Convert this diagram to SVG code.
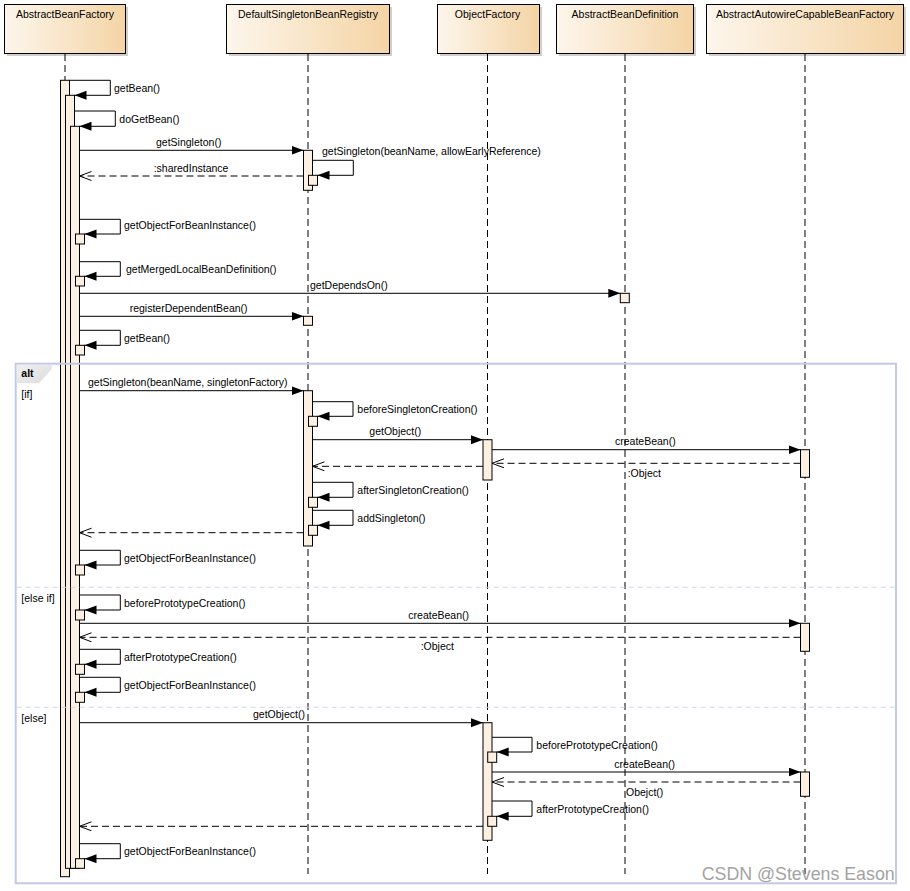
<svg xmlns="http://www.w3.org/2000/svg" width="910" height="891" viewBox="0 0 910 891">
<defs>
<linearGradient id="hdr" x1="0" y1="0" x2="1" y2="0">
<stop offset="0" stop-color="#fdf6ec"/>
<stop offset="1" stop-color="#f4d4a5"/>
</linearGradient>
<linearGradient id="tab" x1="0" y1="0" x2="1" y2="1">
<stop offset="0" stop-color="#f0f0f0"/>
<stop offset="1" stop-color="#dcdcdc"/>
</linearGradient>
<marker id="fa" markerUnits="userSpaceOnUse" markerWidth="13" markerHeight="10" refX="12" refY="4.5" orient="auto">
<path d="M0,0 L12,4.5 L0,9 z" fill="#000"/>
</marker>
<marker id="oa" markerUnits="userSpaceOnUse" markerWidth="14" markerHeight="12" refX="12" refY="5" orient="auto">
<path d="M0,0.5 L12,5 L0,9.5" fill="none" stroke="#000" stroke-width="1"/>
</marker>
</defs>
<style>
text{font-family:"Liberation Sans",Arial,sans-serif;font-size:10.5px;fill:#000}
.hdr{fill:url(#hdr);stroke:#000;stroke-width:1}
.shd{fill:#cfcfcf}
.life{stroke:#000;stroke-width:1;stroke-dasharray:7,4;fill:none}
.bar{fill:#fbf0e1;stroke:#000;stroke-width:1}
.msg{stroke:#000;stroke-width:1;fill:none;marker-end:url(#fa)}
.ret{stroke:#000;stroke-width:1;fill:none;stroke-dasharray:7,4;marker-end:url(#oa)}
.ctr{text-anchor:middle}
.frame{fill:none;stroke:#c2c9e6;stroke-width:2}
.sep{stroke:#d3d7ee;stroke-width:1;stroke-dasharray:5,4}
</style>
<rect width="910" height="891" fill="#fff"/>

<g id="node-AbstractBeanFactory">
<rect class="shd" x="7" y="7" width="121" height="49"/>
<rect class="hdr" x="4.5" y="4.5" width="121" height="49"/>
<text class="ctr" x="65" y="17.5">AbstractBeanFactory</text>
<line class="life" x1="65" y1="54" x2="65" y2="80"/>
<rect class="bar" x="60.5" y="80.3" width="9" height="796.4"/>
<rect class="bar" x="65.5" y="95.3" width="9" height="773"/>
<rect class="bar" x="70.5" y="126.3" width="9" height="742"/>
<rect class="bar" x="75.5" y="234" width="9" height="10"/>
<rect class="bar" x="75.5" y="276.3" width="9" height="9.7"/>
<rect class="bar" x="75.5" y="345.3" width="9" height="9.7"/>
<rect class="bar" x="75.5" y="565" width="9" height="10"/>
<rect class="bar" x="75.5" y="610" width="9" height="10"/>
<rect class="bar" x="75.5" y="664.3" width="9" height="10"/>
<rect class="bar" x="75.5" y="692.3" width="9" height="10"/>
<rect class="bar" x="75.5" y="858.7" width="9" height="9.6"/>
</g>

<g id="node-DefaultSingletonBeanRegistry">
<rect class="shd" x="229" y="7" width="163" height="49"/>
<rect class="hdr" x="226.5" y="4.5" width="163" height="49"/>
<text class="ctr" x="308" y="17.5">DefaultSingletonBeanRegistry</text>
<line class="life" x1="308" y1="54" x2="308" y2="874"/>
<rect class="bar" x="303.5" y="150.3" width="9" height="40"/>
<rect class="bar" x="308.5" y="175.3" width="9" height="10"/>
<rect class="bar" x="303.5" y="316.3" width="9" height="9"/>
<rect class="bar" x="303.5" y="390.7" width="9" height="155.3"/>
<rect class="bar" x="308.5" y="416.3" width="9" height="10"/>
<rect class="bar" x="308.5" y="497.3" width="9" height="10"/>
<rect class="bar" x="308.5" y="525.3" width="9" height="10"/>
</g>

<g id="node-ObjectFactory">
<rect class="shd" x="440" y="7" width="102" height="49"/>
<rect class="hdr" x="437.5" y="4.5" width="102" height="49"/>
<text class="ctr" x="487.5" y="17.5">ObjectFactory</text>
<line class="life" x1="487.5" y1="54" x2="487.5" y2="874"/>
<rect class="bar" x="483" y="439.7" width="9" height="40.3"/>
<rect class="bar" x="483" y="722.7" width="9" height="117.6"/>
<rect class="bar" x="487.7" y="752" width="9" height="10.3"/>
<rect class="bar" x="487.7" y="816.3" width="9" height="10"/>
</g>

<g id="node-AbstractBeanDefinition">
<rect class="shd" x="559" y="7" width="137" height="49"/>
<rect class="hdr" x="556.5" y="4.5" width="137" height="49"/>
<text class="ctr" x="625" y="17.5">AbstractBeanDefinition</text>
<line class="life" x1="625" y1="54" x2="625" y2="874"/>
<rect class="bar" x="620.3" y="293.3" width="9" height="9.4"/>
</g>

<g id="node-AbstractAutowireCapableBeanFactory">
<rect class="shd" x="709" y="7" width="197" height="49"/>
<rect class="hdr" x="706.5" y="4.5" width="197" height="49"/>
<text class="ctr" x="805" y="17.5">AbstractAutowireCapableBeanFactory</text>
<line class="life" x1="805" y1="54" x2="805" y2="874"/>
<rect class="bar" x="800.5" y="449.7" width="9" height="27.6"/>
<rect class="bar" x="800.5" y="623.3" width="9" height="28"/>
<rect class="bar" x="800.5" y="772" width="9" height="24.3"/>
</g>

<g id="fragment-alt">
<rect class="frame" x="15.7" y="363.7" width="880.3" height="519.6"/>
<polygon points="16.7,364.7 51.7,364.7 51.7,369 39,383.3 16.7,383.3" fill="url(#tab)"/>
<text x="21.3" y="377" style="font-weight:bold">alt</text>
<text x="21.3" y="397.5">[if]</text>
<line class="sep" x1="16.7" y1="587.3" x2="895" y2="587.3"/>
<text x="21.3" y="602">[else if]</text>
<line class="sep" x1="16.7" y1="707.3" x2="895" y2="707.3"/>
<text x="21.3" y="722">[else]</text>
</g>

<g id="connectors">
<path class="msg" d="M69.5,80.3 H110.3 V95.3 H74.5"/>
<text x="114" y="92.3">getBean()</text>
<path class="msg" d="M74.5,111 H115.3 V126.3 H79.5"/>
<text x="119.3" y="123">doGetBean()</text>
<path class="msg" d="M79.5,150.3 H303.5"/>
<text x="156" y="146">getSingleton()</text>
<path class="msg" d="M312.5,160.3 H353.3 V175.3 H317.5"/>
<text x="322" y="155.3">getSingleton(beanName, allowEarlyReference)</text>
<path class="ret" d="M303.5,176 H79.5"/>
<text x="153.7" y="171.5">:sharedInstance</text>
<path class="msg" d="M79.5,219.3 H120.3 V234 H84.5"/>
<text x="124" y="229.3">getObjectForBeanInstance()</text>
<path class="msg" d="M79.5,261.7 H120.3 V276.3 H84.5"/>
<text x="126" y="273.3">getMergedLocalBeanDefinition()</text>
<path class="msg" d="M79.5,293.3 H620.3"/>
<text x="310" y="289">getDependsOn()</text>
<path class="msg" d="M79.5,316.3 H303.5"/>
<text x="129.7" y="312">registerDependentBean()</text>
<path class="msg" d="M79.5,330.3 H120.3 V345.3 H84.5"/>
<text x="124" y="341.7">getBean()</text>
<path class="msg" d="M79.5,390.7 H303.5"/>
<text x="88" y="385.7">getSingleton(beanName, singletonFactory)</text>
<path class="msg" d="M312.5,401.7 H353 V416.3 H317.5"/>
<text x="357.3" y="413">beforeSingletonCreation()</text>
<path class="msg" d="M312.5,439.7 H483"/>
<text x="369.3" y="435">getObject()</text>
<path class="msg" d="M492,449.7 H800.5"/>
<text x="615" y="444.5">createBean()</text>
<path class="ret" d="M800.5,463.3 H492"/>
<text x="627.7" y="476.7">:Object</text>
<path class="ret" d="M483,466.3 H312.5"/>
<path class="msg" d="M312.5,482.3 H353 V497.3 H317.5"/>
<text x="357.3" y="494">afterSingletonCreation()</text>
<path class="msg" d="M312.5,510.3 H353 V525.3 H317.5"/>
<text x="357.3" y="521.7">addSingleton()</text>
<path class="ret" d="M303.5,532.7 H79.5"/>
<path class="msg" d="M79.5,550.3 H120.3 V565 H84.5"/>
<text x="124" y="562">getObjectForBeanInstance()</text>
<path class="msg" d="M79.5,595 H120.3 V610 H84.5"/>
<text x="124" y="606.7">beforePrototypeCreation()</text>
<path class="msg" d="M79.5,623.3 H800.5"/>
<text x="408.3" y="619">createBean()</text>
<path class="ret" d="M800.5,637.3 H79.5"/>
<text x="420.7" y="649.5">:Object</text>
<path class="msg" d="M79.5,649.3 H120.3 V664.3 H84.5"/>
<text x="124" y="660.7">afterPrototypeCreation()</text>
<path class="msg" d="M79.5,677.3 H120.3 V692.3 H84.5"/>
<text x="124" y="688.7">getObjectForBeanInstance()</text>
<path class="msg" d="M79.5,722.7 H483"/>
<text x="253" y="718">getObject()</text>
<path class="msg" d="M492,737.3 H532 V752 H496.7"/>
<text x="536.3" y="748.7">beforePrototypeCreation()</text>
<path class="msg" d="M492,772 H800.5"/>
<text x="614.3" y="768">createBean()</text>
<path class="ret" d="M800.5,782 H492"/>
<text x="626" y="796">Obejct()</text>
<path class="msg" d="M492,801 H532 V816.3 H496.7"/>
<text x="536.3" y="812.7">afterPrototypeCreation()</text>
<path class="ret" d="M483,826.3 H79.5"/>
<path class="msg" d="M79.5,843.7 H120.3 V858.7 H84.5"/>
<text x="124" y="855">getObjectForBeanInstance()</text>
</g>

<text x="701.7" y="880" style="font-size:17.8px;fill:#a3a3a3">CSDN @Stevens Eason</text>
</svg>
